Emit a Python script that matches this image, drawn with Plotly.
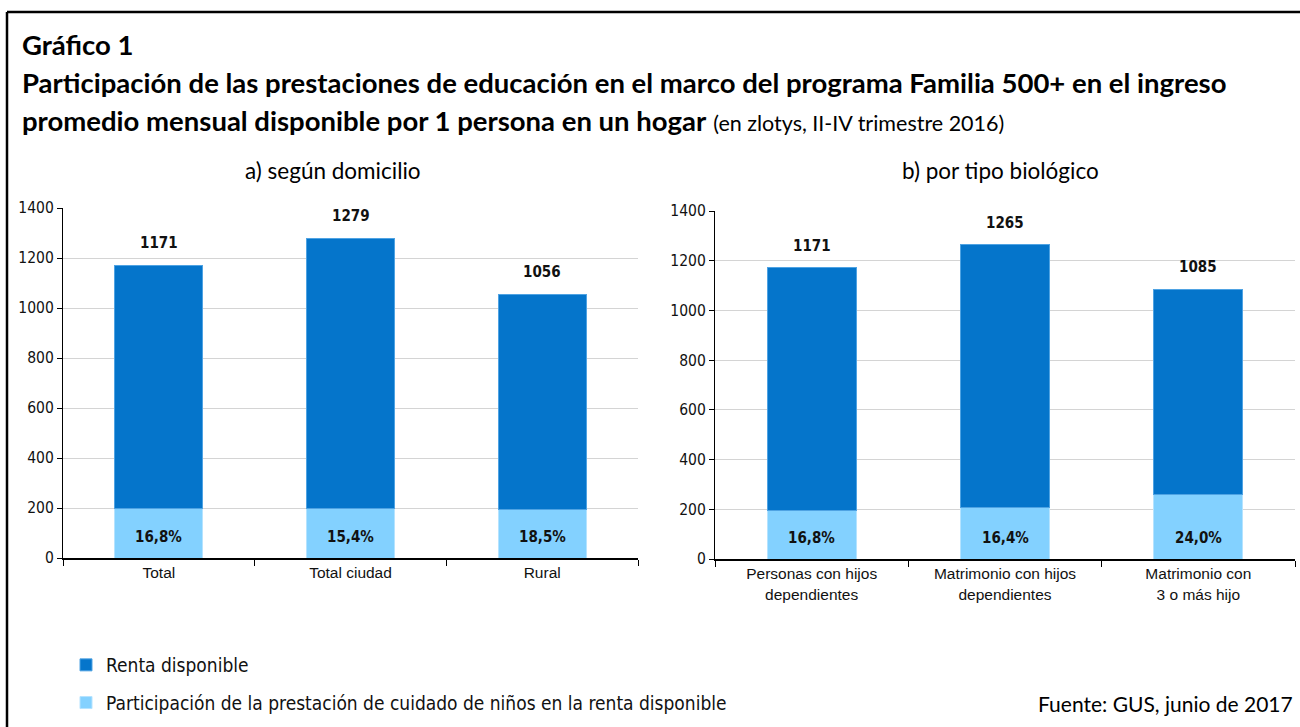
import plotly.graph_objects as go

# a) según domicilio
cat_a = ["Total", "Total ciudad", "Rural"]
renta_a = [1171, 1279, 1056]
pct_a = [16.8, 15.4, 18.5]

# b) por tipo biológico
cat_b = ["Personas con hijos<br>dependientes", "Matrimonio con hijos<br>dependientes", "Matrimonio con<br>3 o más hijo"]
renta_b = [1171, 1265, 1085]
pct_b = [16.8, 16.4, 24.0]

y_ticks = [0, 200, 400, 600, 800, 1000, 1200, 1400]

DARK = "#0575CB"
LIGHT = "#83D1FF"
NARROW = "DejaVu Sans Condensed, Roboto, sans-serif"
ARIAL = "Liberation Sans, Arial, sans-serif"
CALIBRI = "Lato, sans-serif"

fig = go.Figure()


def add_panel(cats, totals, pcts, xa, ya, show):
    part = [t * p / 100 for t, p in zip(totals, pcts)]
    rest = [t - s for t, s in zip(totals, part)]
    yr = ya.replace("axis", "")
    fig.add_trace(go.Bar(
        x=cats, y=part, xaxis=xa, yaxis=ya,
        name="Participación de la prestación de cuidado de niños en la renta disponible",
        marker=dict(color=LIGHT, line=dict(color="#B5E3FF", width=1)),
        showlegend=show, legendrank=2, legendgroup="b", hoverinfo="skip"))
    fig.add_trace(go.Bar(
        x=cats, y=rest, xaxis=xa, yaxis=ya, name="Renta disponible",
        marker=dict(color=DARK, line=dict(color="#4FA3E3", width=1)),
        showlegend=show, legendrank=1, legendgroup="a", hoverinfo="skip"))
    for c, t, p in zip(cats, totals, pcts):
        fig.add_annotation(x=c, y=t, xref=xa, yref=yr, text=f"<b>{t}</b>",
                           showarrow=False, yanchor="bottom", yshift=11,
                           font=dict(family=NARROW, size=15, color="#111"))
        fig.add_annotation(x=c, y=0, xref=xa, yref=yr, text="<b>" + f"{p:.1f}%".replace(".", ",") + "</b>",
                           showarrow=False, yanchor="bottom", yshift=10,
                           font=dict(family=NARROW, size=15, color="#111"))


add_panel(cat_a, renta_a, pct_a, "x", "y", True)
add_panel(cat_b, renta_b, pct_b, "x2", "y2", False)

ax_common = dict(showline=True, linecolor="#000", linewidth=1.5, ticks="outside", tickson="boundaries",
                 ticklen=6, tickcolor="#000", showgrid=False,
                 tickfont=dict(family=ARIAL, size=15.5, color="#111"))
ay_common = dict(range=[0, 1400], tickvals=y_ticks, showline=True, linecolor="#000", linewidth=1.2,
                 ticks="outside", ticklen=5, tickcolor="#000", showgrid=True, gridcolor="#D4D4D4",
                 gridwidth=1.2, zeroline=False,
                 tickfont=dict(family=NARROW, size=15.5, color="#111"))

W, H = 1300, 727
fig.update_layout(
    width=W, height=H, margin=dict(l=0, r=0, t=0, b=0, autoexpand=False),
    paper_bgcolor="white", plot_bgcolor="white",
    barmode="stack", bargap=0.54,
    xaxis=dict(domain=[63 / W, 638 / W], anchor="y", **ax_common),
    yaxis=dict(domain=[(H - 558) / H, (H - 208) / H], anchor="x", **ay_common),
    xaxis2=dict(domain=[715 / W, 1295 / W], anchor="y2", **ax_common),
    yaxis2=dict(domain=[(H - 559) / H, (H - 211) / H], anchor="x2", **ay_common),
    legend=dict(x=66 / W, y=(H - 646) / H, xanchor="left", yanchor="top", traceorder="grouped",
                font=dict(family=NARROW, size=19, color="#111"), bgcolor="rgba(0,0,0,0)",
                itemwidth=30, tracegroupgap=10),
    showlegend=True,
)

texts = [
    dict(x=20, y=45, text="<b>Gráfico 1</b>"),
    dict(x=20, y=83, text="<b>Participación de las prestaciones de educación en el marco del programa Familia 500+ en el ingreso</b>"),
    dict(x=20, y=120, text="<b>promedio mensual disponible por 1 persona en un hogar</b> <span style='font-size:21.5px'>(en zlotys, II-IV trimestre 2016)</span>"),
]
for t in texts:
    fig.add_annotation(x=t["x"] / W, y=(H - t["y"]) / H, xref="paper", yref="paper", text=t["text"],
                       showarrow=False, xanchor="left", yanchor="middle",
                       font=dict(family=CALIBRI, size=27.5, color="#000"))

fig.add_annotation(x=333 / W, y=(H - 170) / H, xref="paper", yref="paper", text="a) según domicilio",
                   showarrow=False, xanchor="center", yanchor="middle",
                   font=dict(family=CALIBRI, size=22.5, color="#000"))
fig.add_annotation(x=1000 / W, y=(H - 170) / H, xref="paper", yref="paper", text="b) por tipo biológico",
                   showarrow=False, xanchor="center", yanchor="middle",
                   font=dict(family=CALIBRI, size=22.5, color="#000"))
fig.add_annotation(x=1295 / W, y=(H - 703) / H, xref="paper", yref="paper", text="Fuente: GUS, junio de 2017",
                   showarrow=False, xanchor="right", yanchor="middle",
                   font=dict(family=CALIBRI, size=21, color="#000"))

# frame
fig.add_shape(type="line", xref="paper", yref="paper", x0=7 / W, x1=7 / W, y0=0, y1=(H - 12) / H,
              line=dict(color="#000", width=2.5))
fig.add_shape(type="line", xref="paper", yref="paper", x0=7 / W, x1=1, y0=(H - 12) / H, y1=(H - 12) / H,
              line=dict(color="#000", width=2.5))

fig.write_html("out.html", config={"displayModeBar": False},
               post_script="document.body.style.margin='0';document.body.style.overflow='hidden';")
